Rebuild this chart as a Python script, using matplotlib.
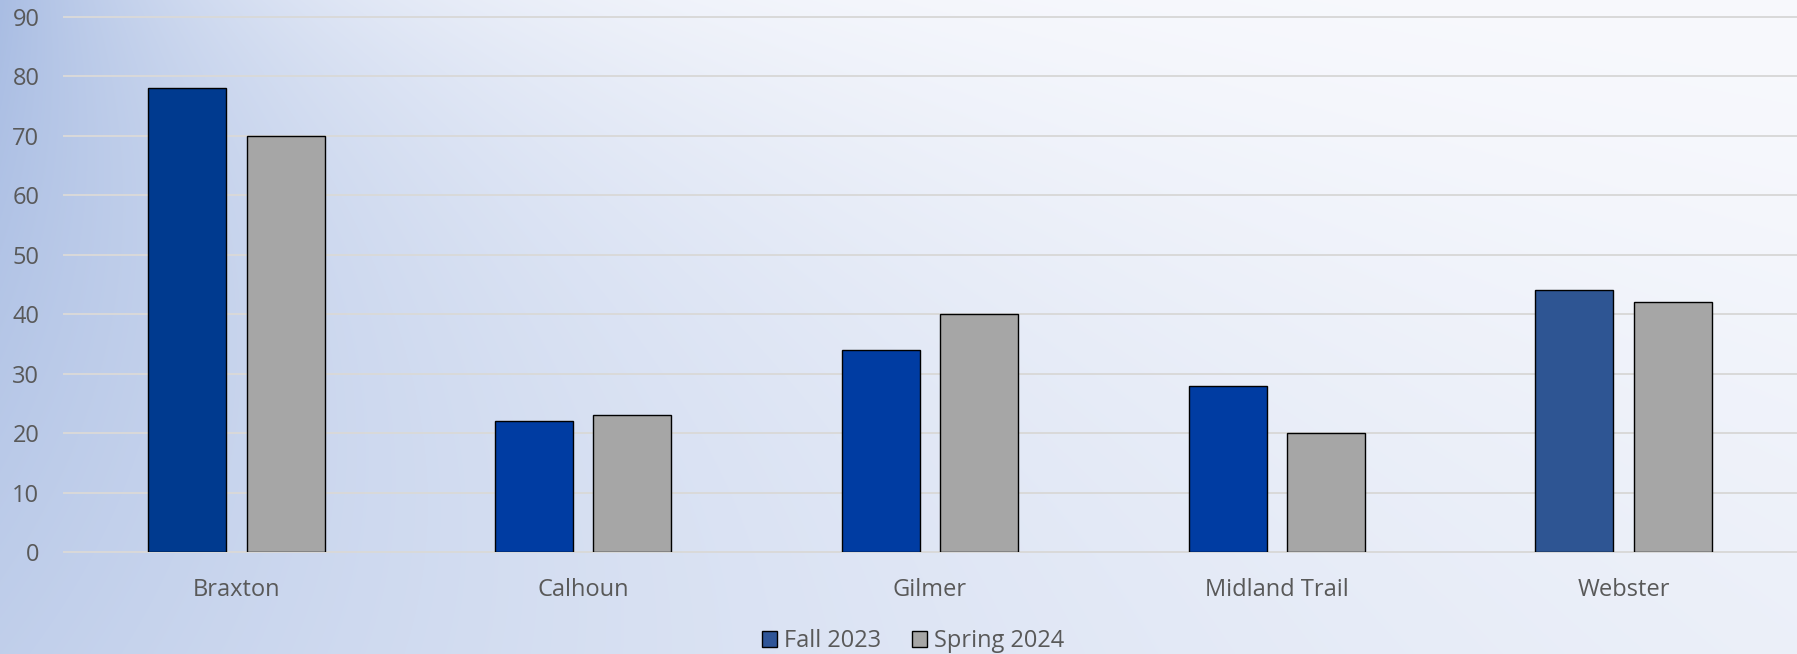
import numpy as np
import matplotlib
matplotlib.use("Agg")
import matplotlib.pyplot as plt
from matplotlib.patches import Patch

# data
schools = ["Braxton", "Calhoun", "Gilmer", "Midland Trail", "Webster"]
fall_2023 = [78, 22, 34, 28, 44]
spring_2024 = [70, 23, 40, 20, 42]
yticks = [0, 10, 20, 30, 40, 50, 60, 70, 80, 90]

fall_colors = ["#003A8F", "#003CA2", "#003CA2", "#003CA2", "#2E5593"]
spring_color = "#A6A6A6"
text_color = "#595959"
grid_color = "#D9D9D9"

W, H = 1797, 654
plt.rcParams["font.family"] = ["Open Sans", "DejaVu Sans"]

fig = plt.figure(figsize=(W / 100, H / 100), dpi=100)

# background gradient: blue on the left, fading to white towards the top right
bg = fig.add_axes([0, 0, 1, 1], zorder=-10)
xx, yy = np.meshgrid(np.arange(W), np.arange(H))
frac = yy / H
L = 300 + 900 * frac
A = 1.0 - 0.3 * frac
b = np.clip(A * np.exp(-xx / L), 0, 1)[..., None]
white = np.array([248, 249, 253]) / 255
blue = np.array([169, 189, 227]) / 255
img = white * (1 - b) + blue * b
bg.imshow(img, aspect="auto", interpolation="bilinear")
bg.axis("off")

ax = fig.add_axes([63 / W, (H - 552) / H, 1 - 63 / W, 535 / H])
ax.patch.set_alpha(0)

x = np.arange(len(schools))
width = 0.225
offset = 0.142
ax.bar(x - offset, fall_2023, width, color=fall_colors, edgecolor="black",
       linewidth=1.0, zorder=3)
ax.bar(x + offset, spring_2024, width, color=spring_color, edgecolor="black",
       linewidth=1.0, zorder=3)

ax.hlines(yticks, 0, 1, transform=ax.get_yaxis_transform(), colors=grid_color,
          linewidth=1.4, zorder=1, clip_on=False)

ax.set_xlim(-0.5, len(schools) - 0.5)
ax.set_ylim(0, 90)
ax.set_yticks(yticks)
ax.set_xticks(x)
ax.set_xticklabels(schools)
for s in ax.spines.values():
    s.set_visible(False)
ax.tick_params(axis="both", length=0, labelsize=17, labelcolor=text_color)
ax.tick_params(axis="y", pad=17)
ax.tick_params(axis="x", pad=19)

handles = [Patch(facecolor="#2F5597", edgecolor="black", linewidth=1.0),
           Patch(facecolor=spring_color, edgecolor="black", linewidth=1.0)]
fig.legend(handles, ["Fall 2023", "Spring 2024"], loc="center",
           bbox_to_anchor=(913 / W, 1 - 641 / H), ncol=2, frameon=False,
           fontsize=17, labelcolor=text_color, handlelength=0.65,
           handleheight=0.65, handletextpad=0.3, columnspacing=1.3,
           borderpad=0)

fig.savefig("out.png", dpi=100)
